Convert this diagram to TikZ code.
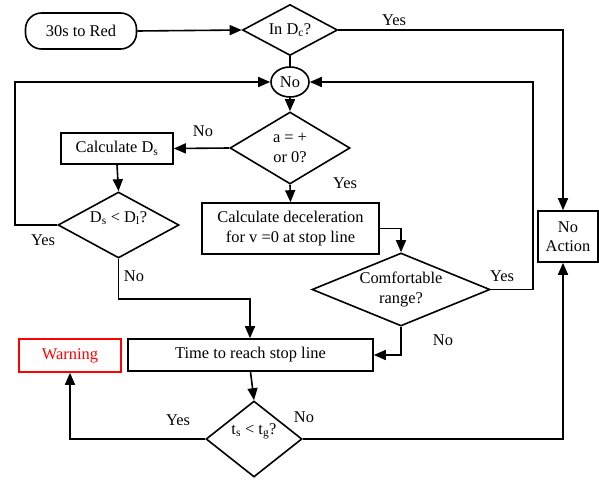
\documentclass[tikz,border=0pt]{standalone}
\usepackage{fontspec}
\setmainfont{Liberation Serif}
\usetikzlibrary{arrows.meta,shapes.geometric}
\begin{document}
\begin{tikzpicture}[x=1pt,y=-1pt,
  every node/.style={font=\fontsize{16.4}{19.5}\selectfont},
  box/.style={draw,line width=1.6pt,inner sep=0pt,align=center},
  dia/.style={draw,diamond,line width=1.6pt,inner sep=0pt,align=center},
  lab/.style={inner sep=0pt},
  line/.style={line width=1.6pt},
  arr/.style={line width=1.6pt,-{Triangle[length=12pt,width=10pt]}}
]
\useasboundingbox (0,0) rectangle (599,479);
% nodes
\node[box,rounded corners=16pt,minimum width=111pt,minimum height=36pt] (red) at (81,31) {30s to Red};
\node[dia,minimum width=95pt,minimum height=51pt,shape aspect=1.86] (indc) at (290,30) {In D\textsubscript{c}?};
\node[draw,ellipse,line width=1.6pt,inner sep=0pt,minimum width=38pt,minimum height=30pt] (circ) at (290,82) {No};
\node[dia,minimum width=120pt,minimum height=72pt,shape aspect=1.67] (aplus) at (290,148) {a = +\\or 0?};
\node[box,minimum width=112pt,minimum height=31pt] (calcds) at (117,148.5) {Calculate D\textsubscript{s}};
\node[dia,minimum width=121pt,minimum height=66pt,shape aspect=1.83] (dsdl) at (118.5,225) {\raisebox{3pt}[0pt][0pt]{D\textsubscript{s} < D\textsubscript{l}?}};
\node[box,minimum width=177pt,minimum height=51pt] (calcdec) at (290.5,228.5) {Calculate deceleration\\for v =0 at stop line};
\node[dia,minimum width=178pt,minimum height=73pt,shape aspect=2.44] (comf) at (401,289.5) {Comfortable\\range?};
\node[box,minimum width=60pt,minimum height=51pt] (noact) at (568,236.5) {No\\Action};
\node[box,minimum width=245pt,minimum height=32pt] (time) at (250.5,355) {Time to reach stop line};
\node[box,draw=red,text=red,minimum width=102pt,minimum height=33pt] (warn) at (70,355.5) {Warning};
\node[dia,minimum width=96pt,minimum height=76pt,shape aspect=1.26] (tstg) at (254,439) {\raisebox{5pt}[0pt][0pt]{t\textsubscript{s} < t\textsubscript{g}?}};
% helper coordinates
\coordinate (rx) at (563,0);
\coordinate (lx) at (15,0);
\coordinate (cx) at (533,0);
\coordinate (dsy) at (0,299);
\coordinate (tx) at (250,0);
% connectors
\draw[arr] (red.east) -- (indc.west);
\draw[line] (indc.south) -- (circ.north);
\draw[arr] (indc.east) -- (indc.east -| rx) -- (noact.north -| rx);
\draw[arr] (circ.south) -- (aplus.north);
\draw[arr] (aplus.west) -- (calcds.east);
\draw[arr] (aplus.south) -- (calcdec.north);
\draw[arr] (calcds.south) -- (dsdl.north);
\draw[arr] (dsdl.west) -- (dsdl.west -| lx) -- (circ.west -| lx) -- (circ.west);
\draw[arr] (dsdl.south) -- (dsdl.south |- dsy) -- (tx |- dsy) -- (time.north -| tx);
\draw[arr] (calcdec.east) -- (calcdec.east -| comf.north) -- (comf.north);
\draw[arr] (comf.east) -- (comf.east -| cx) -- (circ.east -| cx) -- (circ.east);
\draw[arr] (comf.south) -- (comf.south |- time.east) -- (time.east);
\draw[arr] (time.south) -- (tstg.north);
\draw[arr] (tstg.west) -- (tstg.west -| warn.south) -- (warn.south);
\draw[arr] (tstg.east) -- (tstg.east -| rx) -- (noact.south -| rx);
% labels
\node[lab] (l1) at (394,20) {Yes};
\node[lab] (l2) at (203,131) {No};
\node[lab] (l3) at (345,183) {Yes};
\node[lab] (l4) at (43,240) {Yes};
\node[lab] (l5) at (134,276) {No};
\node[lab] (l6) at (502,276) {Yes};
\node[lab] (l7) at (443,340) {No};
\node[lab] (l8) at (178,420) {Yes};
\node[lab] (l9) at (304,417) {No};
\end{tikzpicture}
\end{document}
